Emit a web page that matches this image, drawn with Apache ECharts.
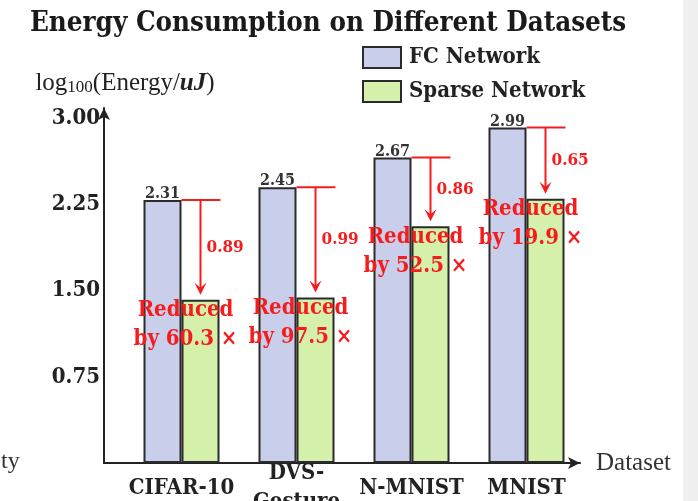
<!DOCTYPE html>
<html>
<head>
<meta charset="utf-8">
<script src="https://cdn.jsdelivr.net/npm/echarts@6/dist/echarts.min.js"></script>
<style>
html,body{margin:0;padding:0;background:#fff;}
#chart{width:698px;height:501px;}
</style>
</head>
<body>
<div id="chart"></div>
<script>
// ---- data ----
const categories = ['CIFAR-10', 'DVS-\nGesture', 'N-MNIST', 'MNIST'];
const fcHeights = [2.29, 2.40, 2.66, 2.92];      // bar heights as drawn
const sparseHeights = [1.42, 1.44, 2.06, 2.30];  // bar heights as drawn
const fcLabels = ['2.31', '2.45', '2.67', '2.99'];
const diffLabels = ['0.89', '0.99', '0.86', '0.65'];
const factorLabels = ['60.3', '97.5', '52.5', '19.9'];
const yMin = 0, yMax = 3.09, yInterval = 0.75, yLabelMax = 3.0;

const BOLD_FONT = '"DejaVu Serif Condensed", "DejaVu Serif", serif';
const REG_FONT = '"Liberation Serif", "DejaVu Serif", serif';
const RED = '#f41c1c';
const DARK = '#222';
const BAR_W = 38;

const chart = echarts.init(document.getElementById('chart'), null, {renderer: 'canvas'});

const annotData = categories.map((c, i) => [i, fcHeights[i], sparseHeights[i]]);

const option = {
  backgroundColor: '#fff',
  animation: false,
  title: {
    text: 'Energy Consumption on Different Datasets',
    left: 30, top: 10, padding: 0,
    textStyle: {fontFamily: BOLD_FONT, fontWeight: 'bold', fontSize: 27.5, color: '#1a1a1a'}
  },
  legend: {
    orient: 'vertical', left: 362, top: 46, padding: 0,
    itemWidth: 38, itemHeight: 21, itemGap: 11,
    icon: 'rect',
    data: ['FC Network', 'Sparse Network'],
    textStyle: {fontFamily: BOLD_FONT, fontWeight: 'bold', fontSize: 22, color: DARK, lineHeight: 22, padding: [0, 0, 0, 3]}
  },
  grid: [
    {left: 124, right: 114, top: 108, bottom: 38, outerBoundsMode: 'none', containLabel: false},
    {left: 104, right: 118, top: 108, bottom: 38, outerBoundsMode: 'none', containLabel: false}
  ],
  xAxis: [
    {
      type: 'category', gridIndex: 0, data: categories,
      axisLine: {show: false}, axisTick: {show: false}, splitLine: {show: false},
      axisLabel: {
        interval: 0, margin: 25, verticalAlign: 'middle', lineHeight: 29,
        fontFamily: BOLD_FONT, fontWeight: 'bold', fontSize: 22, color: DARK
      }
    },
    {
      type: 'value', gridIndex: 1, min: 0, max: 1,
      axisLine: {show: true, lineStyle: {color: DARK, width: 2}, symbol: ['none', 'arrow'], symbolSize: [9, 12]},
      axisTick: {show: false}, axisLabel: {show: false}, splitLine: {show: false},
      name: 'Dataset', nameLocation: 'end', nameGap: 16,
      nameTextStyle: {fontFamily: REG_FONT, fontSize: 25, color: '#333', verticalAlign: 'middle'}
    }
  ],
  yAxis: [
    {
      type: 'value', gridIndex: 0, min: yMin, max: yMax, interval: yInterval,
      show: false, splitLine: {show: false}
    },
    {
      type: 'value', gridIndex: 1, min: yMin, max: yMax, interval: yInterval,
      axisLine: {show: true, lineStyle: {color: DARK, width: 2}, symbol: ['none', 'arrow'], symbolSize: [9, 12]},
      axisTick: {show: false}, splitLine: {show: false},
      axisLabel: {
        margin: 4, fontFamily: BOLD_FONT, fontWeight: 'bold', fontSize: 22, color: DARK,
        showMaxLabel: false,
        formatter: v => (v > 0 && v <= yLabelMax + 1e-6) ? v.toFixed(2) : ''
      },
      name: '{a|log}{s|100}{a|(Energy/}{b|uJ}{a|)}',
      nameLocation: 'end', nameGap: 12,
      nameTextStyle: {
        align: 'center', padding: [0, 0, 0, 42],
        rich: {
          a: {fontFamily: REG_FONT, fontSize: 25, color: '#222'},
          s: {fontFamily: REG_FONT, fontSize: 17, color: '#222', verticalAlign: 'bottom', padding: [8, 0, 0, 0]},
          b: {fontFamily: REG_FONT, fontSize: 25, fontWeight: 'bold', fontStyle: 'italic', color: '#222'}
        }
      }
    }
  ],
  series: [
    {
      name: 'FC Network', type: 'bar', xAxisIndex: 0, yAxisIndex: 0,
      data: fcHeights, barWidth: BAR_W, barGap: '0%',
      itemStyle: {color: '#c9cfea', borderColor: '#2b2b2b', borderWidth: 2},
      label: {
        show: true, position: 'top', distance: -2,
        formatter: p => fcLabels[p.dataIndex],
        fontFamily: BOLD_FONT, fontWeight: 'bold', fontSize: 16, color: '#333'
      }
    },
    {
      name: 'Sparse Network', type: 'bar', xAxisIndex: 0, yAxisIndex: 0,
      data: sparseHeights, barWidth: BAR_W, barGap: '0%',
      itemStyle: {color: '#d5f0ab', borderColor: '#2b2b2b', borderWidth: 2}
    },
    {
      type: 'custom', xAxisIndex: 0, yAxisIndex: 0, z: 10,
      data: annotData,
      encode: {x: 0, y: 1},
      renderItem: function (params, api) {
        const i = api.value(0);
        const top = api.coord([i, api.value(1)]);
        const low = api.coord([i, api.value(2)]);
        const cx = top[0];
        const ax = cx + BAR_W / 2;
        const tip = low[1] - 5;
        return {
          type: 'group',
          children: [
            {type: 'line', shape: {x1: cx, y1: top[1], x2: cx + BAR_W + 1, y2: top[1]},
             style: {stroke: RED, lineWidth: 2}},
            {type: 'line', shape: {x1: ax, y1: top[1], x2: ax, y2: tip - 6},
             style: {stroke: RED, lineWidth: 2}},
            {type: 'polygon', shape: {points: [[ax - 6, tip - 12], [ax, tip], [ax + 6, tip - 12], [ax, tip - 7]]},
             style: {fill: RED}},
            {type: 'text', style: {
              text: diffLabels[i], x: ax + 6, y: (top[1] + tip) / 2,
              align: 'left', verticalAlign: 'middle',
              font: 'bold 17px ' + BOLD_FONT, fill: RED}},
            {type: 'text', style: {
              text: 'Reduced\nby ' + factorLabels[i] + ' ×', x: cx + 4, y: low[1] - 4,
              align: 'center', verticalAlign: 'top', lineHeight: 29,
              font: 'bold 22px ' + BOLD_FONT, fill: RED}}
          ]
        };
      }
    }
  ],
  graphic: [
    {type: 'rect', right: 0, top: 0, shape: {width: 15, height: 501}, style: {fill: '#f0f0f0'}, silent: true},
    {type: 'text', left: 1, top: 450, style: {text: 'ty', font: '24px ' + REG_FONT, fill: '#333'}}
  ]
};
chart.setOption(option);
</script>
</body>
</html>
